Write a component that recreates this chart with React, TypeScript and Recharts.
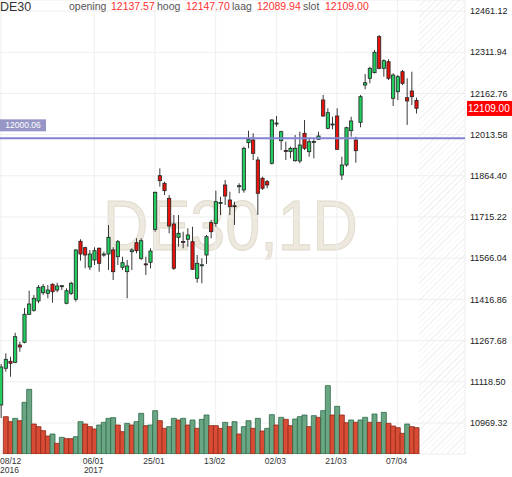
import { ComposedChart, Bar, Cell, XAxis, YAxis, CartesianGrid, ReferenceLine } from "recharts";

// trading days shown on the chart (first one is cut by the left edge)
const dates = [
  "08/12/2016", "09/12/2016", "12/12/2016", "13/12/2016", "14/12/2016", "15/12/2016", "16/12/2016", "19/12/2016",
  "20/12/2016", "21/12/2016", "22/12/2016", "23/12/2016", "27/12/2016", "28/12/2016", "29/12/2016", "30/12/2016",
  "02/01/2017", "03/01/2017", "04/01/2017", "05/01/2017", "06/01/2017", "09/01/2017", "10/01/2017", "11/01/2017",
  "12/01/2017", "13/01/2017", "16/01/2017", "17/01/2017", "18/01/2017", "19/01/2017", "20/01/2017", "23/01/2017",
  "24/01/2017", "25/01/2017", "26/01/2017", "27/01/2017", "30/01/2017", "31/01/2017",
  "01/02/2017", "02/02/2017", "03/02/2017", "06/02/2017", "07/02/2017", "08/02/2017", "09/02/2017", "10/02/2017",
  "13/02/2017", "14/02/2017", "15/02/2017", "16/02/2017", "17/02/2017", "20/02/2017", "21/02/2017", "22/02/2017",
  "23/02/2017", "24/02/2017", "27/02/2017", "28/02/2017",
  "01/03/2017", "02/03/2017", "03/03/2017", "06/03/2017", "07/03/2017", "08/03/2017", "09/03/2017", "10/03/2017",
  "13/03/2017", "14/03/2017", "15/03/2017", "16/03/2017", "17/03/2017", "20/03/2017", "21/03/2017", "22/03/2017",
  "23/03/2017", "24/03/2017", "27/03/2017", "28/03/2017", "29/03/2017", "30/03/2017", "31/03/2017",
  "03/04/2017", "04/04/2017", "05/04/2017", "06/04/2017", "07/04/2017", "10/04/2017", "11/04/2017", "12/04/2017",
  "13/04/2017",
];

const opens = [
  11034.5, 11167.4, 11192.8, 11189.1, 11251.8, 11261.6, 11362.9, 11377.4, 11411.1, 11441.1,
  11439.0, 11471.6, 11450.9, 11462.9, 11402.8, 11439.0, 11417.2, 11627.3, 11604.1, 11534.2,
  11559.5, 11601.9, 11579.5, 11581.3, 11595.8, 11571.5, 11533.1, 11517.2, 11589.6, 11622.2,
  11565.7, 11545.5, 11551.2, 11670.7, 11864.8, 11837.3, 11782.9, 11689.9, 11641.7, 11626.5,
  11634.5, 11625.8, 11493.3, 11540.5, 11577.7, 11694.6, 11692.4, 11766.0, 11831.1, 11776.8,
  11756.0, 11826.5, 11813.0, 11984.3, 11994.0, 11921.6, 11855.4, 11843.1, 11909.7, 12053.5,
  11991.5, 11956.0, 11951.7, 11919.1, 11918.0, 12018.3, 11951.7, 11987.0, 11996.6, 12138.9,
  12036.4, 12050.0, 12080.9, 11867.3, 11903.5, 12027.7, 11994.0, 12058.1, 12193.2, 12217.4,
  12237.7, 12368.1, 12253.6, 12277.5, 12145.0, 12168.9, 12241.3, 12147.2, 12171.5, 12137.57,
];

const highs = [
  11183.0, 11221.7, 11209.4, 11296.3, 11263.7, 11385.7, 11448.4, 11432.8, 11469.0, 11472.6,
  11469.0, 11475.2, 11477.4, 11469.0, 11457.1, 11481.0, 11598.3, 11634.5, 11607.7, 11595.8,
  11605.5, 11605.5, 11589.6, 11686.3, 11605.5, 11632.0, 11571.5, 11559.5, 11601.9, 11638.1,
  11638.1, 11571.5, 11601.9, 11806.8, 11891.6, 11843.1, 11794.9, 11722.5, 11722.5, 11662.0,
  11674.3, 11680.1, 11577.7, 11565.7, 11650.1, 11704.4, 11810.5, 11788.7, 11849.2, 11806.8,
  11770.6, 11837.3, 11969.8, 12027.7, 12018.3, 11933.6, 11861.2, 11849.2, 12069.0, 12080.9,
  12027.7, 11987.9, 11969.8, 12012.1, 12024.1, 12066.5, 12000.2, 11996.6, 12024.1, 12157.0,
  12108.8, 12078.4, 12108.8, 11933.6, 12042.2, 12078.4, 12006.0, 12157.0, 12233.0, 12259.4,
  12319.9, 12374.2, 12286.2, 12286.2, 12235.5, 12229.4, 12247.5, 12217.4, 12241.3, 12147.7,
];

const lows = [
  10987.5, 11155.1, 11137.0, 11185.5, 11227.5, 11257.9, 11360.4, 11372.4, 11402.8, 11432.8,
  11420.9, 11404.9, 11442.6, 11450.9, 11399.1, 11432.8, 11408.6, 11557.0, 11529.5, 11523.3,
  11541.4, 11517.2, 11571.5, 11523.3, 11487.1, 11541.4, 11523.3, 11420.9, 11523.3, 11583.8,
  11559.5, 11505.2, 11529.5, 11662.0, 11825.0, 11794.9, 11656.2, 11523.3, 11607.7, 11601.9,
  11607.7, 11523.3, 11477.4, 11475.2, 11545.1, 11638.1, 11680.1, 11722.5, 11758.7, 11722.5,
  11686.3, 11801.0, 11803.2, 11964.0, 11921.6, 11722.5, 11813.0, 11819.2, 11905.0, 12042.2,
  11957.8, 11921.6, 11927.8, 11915.5, 11909.7, 11957.8, 11933.6, 11927.8, 11994.0, 12078.4,
  12032.8, 12032.8, 11957.8, 11849.2, 11897.4, 12006.0, 11911.8, 12040.0, 12177.6, 12199.3,
  12235.5, 12250.0, 12223.2, 12211.3, 12117.2, 12138.9, 12193.2, 12048.4, 12120.8, 12089.94,
];

const closes = [
  11172.1, 11200.0, 11185.5, 11281.8, 11244.5, 11362.9, 11400.2, 11420.9, 11460.7, 11462.9,
  11450.9, 11444.8, 11465.4, 11466.5, 11448.4, 11475.2, 11595.8, 11581.3, 11577.7, 11581.3,
  11593.2, 11547.6, 11581.0, 11641.7, 11517.2, 11625.8, 11549.8, 11537.8, 11595.8, 11593.2,
  11629.4, 11543.0, 11592.1, 11804.7, 11846.7, 11810.5, 11682.7, 11529.5, 11656.2, 11625.0,
  11650.1, 11525.9, 11547.6, 11542.3, 11643.9, 11662.0, 11770.6, 11768.0, 11791.3, 11752.5,
  11754.0, 11828.5, 11964.0, 11996.6, 11945.9, 11801.0, 11819.2, 11831.1, 12066.5, 12055.5,
  12024.1, 11954.5, 11964.0, 11964.0, 11975.9, 11964.0, 11987.9, 11989.0, 12008.5, 12080.9,
  12092.9, 12052.0, 11960.4, 11903.5, 12038.6, 12062.8, 11955.3, 12150.8, 12201.5, 12253.6,
  12311.6, 12253.6, 12281.2, 12217.4, 12229.4, 12223.2, 12199.3, 12135.3, 12150.8, 12109.0,
];

// volume of the first (cut off) day is not shown
const volumes: (number | null)[] = [
  null,
  112, 97, 107, 100, 155, 194, 90, 82, 70, 54,
  60, 32, 50, 46, 46, 52, 97, 90, 82, 75,
  87, 95, 107, 109, 87, 67, 92, 87, 97, 122,
  85, 87, 130, 100, 77, 82, 107, 102, 107, 87,
  102, 77, 104, 117, 85, 85, 77, 95, 82, 97,
  60, 82, 100, 77, 107, 69, 77, 118, 87, 110,
  104, 85, 105, 112, 117, 82, 115, 110, 130, 205,
  117, 143, 117, 94, 102, 95, 102, 110, 95, 120,
  95, 125, 92, 84, 79, 62, 90, 82, 79,
];

const dateTicks = ["08/12/2016", "06/01/2017", "25/01/2017", "13/02/2017", "02/03/2017", "21/03/2017", "07/04/2017"];
const priceTicks = [
  10969.32, 11118.5, 11267.68, 11416.86, 11566.04, 11715.22, 11864.4, 12013.58, 12162.76, 12311.94, 12461.12,
];
const alertLevel = 12000.06;

const UP = "#22cc5e";
const DOWN = "#e8120c";
const VOL_UP = "#6aa684";
const VOL_UP_EDGE = "#2f6a49";
const VOL_DOWN = "#d94b34";
const VOL_DOWN_EDGE = "#8a2a1a";

const Candle = (props: any) => {
  const { x, y, width, height, payload } = props;
  const { open, close, high, low } = payload;
  const top = Math.min(y, y + height);
  const h = Math.abs(height);
  const k = high === low ? 0 : h / (high - low);
  const py = (p: number) => top + (high - p) * k;
  const cx = x + width / 2;
  const up = close >= open;
  const bodyTop = py(Math.max(open, close));
  const bodyH = Math.max(py(Math.min(open, close)) - bodyTop, 1);
  return (
    <g>
      <line x1={cx} x2={cx} y1={top} y2={top + h} stroke="#3a3a3a" strokeWidth={1} />
      <rect x={cx - 1.6} y={bodyTop} width={3.2} height={bodyH} fill={up ? UP : DOWN} stroke="#222" strokeWidth={0.8} />
    </g>
  );
};

const DateTick = (props: any) => {
  const { x, payload } = props;
  const value = String(payload.value);
  const [dd, mm, yyyy] = value.split("/");
  const i = dateTicks.indexOf(value);
  const showYear = i === 0 || (i > 0 && dateTicks[i - 1].slice(6) !== yyyy);
  const first = i === 0;
  const tx = first ? 0 : x - 1;
  const anchor = first ? "start" : "middle";
  return (
    <g>
      <text x={tx} y={464} textAnchor={anchor} fontSize={8.5} fill="#333">{`${dd}/${mm}`}</text>
      {showYear && (
        <text x={tx} y={472.5} textAnchor={anchor} fontSize={8.5} fill="#333">{yyyy}</text>
      )}
    </g>
  );
};

const PriceTick = (props: any) => (
  <text x={470} y={props.y} dy="0.35em" fontSize={9} fill="#222">
    {Number(props.payload.value).toFixed(2)}
  </text>
);

export default function App() {
  const data = dates.map((date, i) => {
    const v = volumes[i];
    const prev = i > 0 ? volumes[i - 1] : null;
    return {
      date,
      open: opens[i],
      high: highs[i],
      low: lows[i],
      close: closes[i],
      range: [lows[i], highs[i]],
      volume: v,
      volUp: v != null && prev != null && v > prev,
    };
  });
  const last = data[data.length - 1];

  const layer = { position: "absolute" as const, left: 0, top: 0 };

  return (
    <div
      style={{
        position: "absolute",
        left: 0,
        top: 0,
        width: 512,
        height: 477,
        overflow: "hidden",
        background: "#fff",
        fontFamily: "'Liberation Sans', Arial, sans-serif",
      }}
    >
      {/* empty future area */}
      <div
        style={{
          position: "absolute",
          left: 418.7,
          top: 0,
          width: 46.3,
          height: 454,
          background: "repeating-linear-gradient(135deg, #f3f3f3 0px, #f3f3f3 1px, #ffffff 1px, #ffffff 4px)",
        }}
      />

      <svg width={512} height={477} style={layer}>
        <text
          x={103}
          y={250}
          fontSize={70}
          textLength={255}
          lengthAdjust="spacingAndGlyphs"
          fill="#ede9de"
          stroke="#e0dbcd"
          strokeWidth={1}
        >
          DE30,1D
        </text>
      </svg>

      <div style={layer}>
        <ComposedChart
          width={512}
          height={477}
          data={data}
          margin={{ top: 0, right: 0, bottom: 0, left: -1.33 }}
          barCategoryGap={0}
          barGap={0}
        >
          <CartesianGrid stroke="#eeeeee" />
          <XAxis
            dataKey="date"
            ticks={dateTicks}
            interval={0}
            height={23}
            padding={{ left: 0, right: 46.33 }}
            axisLine={false}
            tickLine={false}
            tick={<DateTick />}
          />
          <YAxis
            orientation="right"
            width={47}
            type="number"
            domain={[10857.07, 12500.95]}
            allowDataOverflow
            ticks={priceTicks}
            interval={0}
            axisLine={false}
            tickLine={false}
            tick={<PriceTick />}
          />
          <Bar dataKey="range" shape={Candle} isAnimationActive={false} />
          <ReferenceLine
            y={alertLevel}
            stroke="#8383d4"
            strokeWidth={2}
            label={(p: any) => (
              <g>
                <rect x={0} y={p.viewBox.y - 19} width={46} height={12} fill="#9696c6" />
                <text x={23} y={p.viewBox.y - 10} textAnchor="middle" fontSize={8.5} fill="#fff">
                  {alertLevel.toFixed(2)}
                </text>
              </g>
            )}
          />
          <ReferenceLine
            y={last.close}
            stroke="none"
            label={(p: any) => (
              <g>
                <rect x={467} y={p.viewBox.y - 7.3} width={45} height={15} fill="#ff0000" />
                <text x={468} y={p.viewBox.y + 3.6} fontSize={10} fill="#fff">
                  {last.close.toFixed(2)}
                </text>
              </g>
            )}
          />
        </ComposedChart>
      </div>

      <div style={layer}>
        <ComposedChart
          width={512}
          height={477}
          data={data}
          margin={{ top: 0, right: 47, bottom: 23, left: -1.33 }}
          barCategoryGap={0}
          barGap={0}
        >
          <XAxis dataKey="date" hide padding={{ left: 0, right: 46.33 }} />
          <YAxis hide type="number" domain={[0, 1362]} allowDataOverflow />
          <Bar dataKey="volume" isAnimationActive={false}>
            {data.map((d, i) => (
              <Cell
                key={`vol-${i}`}
                fill={d.volUp ? VOL_UP : VOL_DOWN}
                stroke={d.volUp ? VOL_UP_EDGE : VOL_DOWN_EDGE}
                strokeWidth={0.8}
              />
            ))}
          </Bar>
        </ComposedChart>
      </div>

      <svg width={512} height={30} style={layer}>
        <text x={0} y={11} fontSize={12.5} fill="#333">DE30</text>
        <text x={69} y={10} fontSize={10.5} fill="#555">opening</text>
        <text x={111} y={10} fontSize={10.5} fill="#ff3030">{last.open.toFixed(2)}</text>
        <text x={157} y={10} fontSize={10.5} fill="#555">hoog</text>
        <text x={186} y={10} fontSize={10.5} fill="#ff3030">{last.high.toFixed(2)}</text>
        <text x={232} y={10} fontSize={10.5} fill="#555">laag</text>
        <text x={257} y={10} fontSize={10.5} fill="#ff3030">{last.low.toFixed(2)}</text>
        <text x={303} y={10} fontSize={10.5} fill="#555">slot</text>
        <text x={325} y={10} fontSize={10.5} fill="#ff3030">{last.close.toFixed(2)}</text>
      </svg>
    </div>
  );
}
